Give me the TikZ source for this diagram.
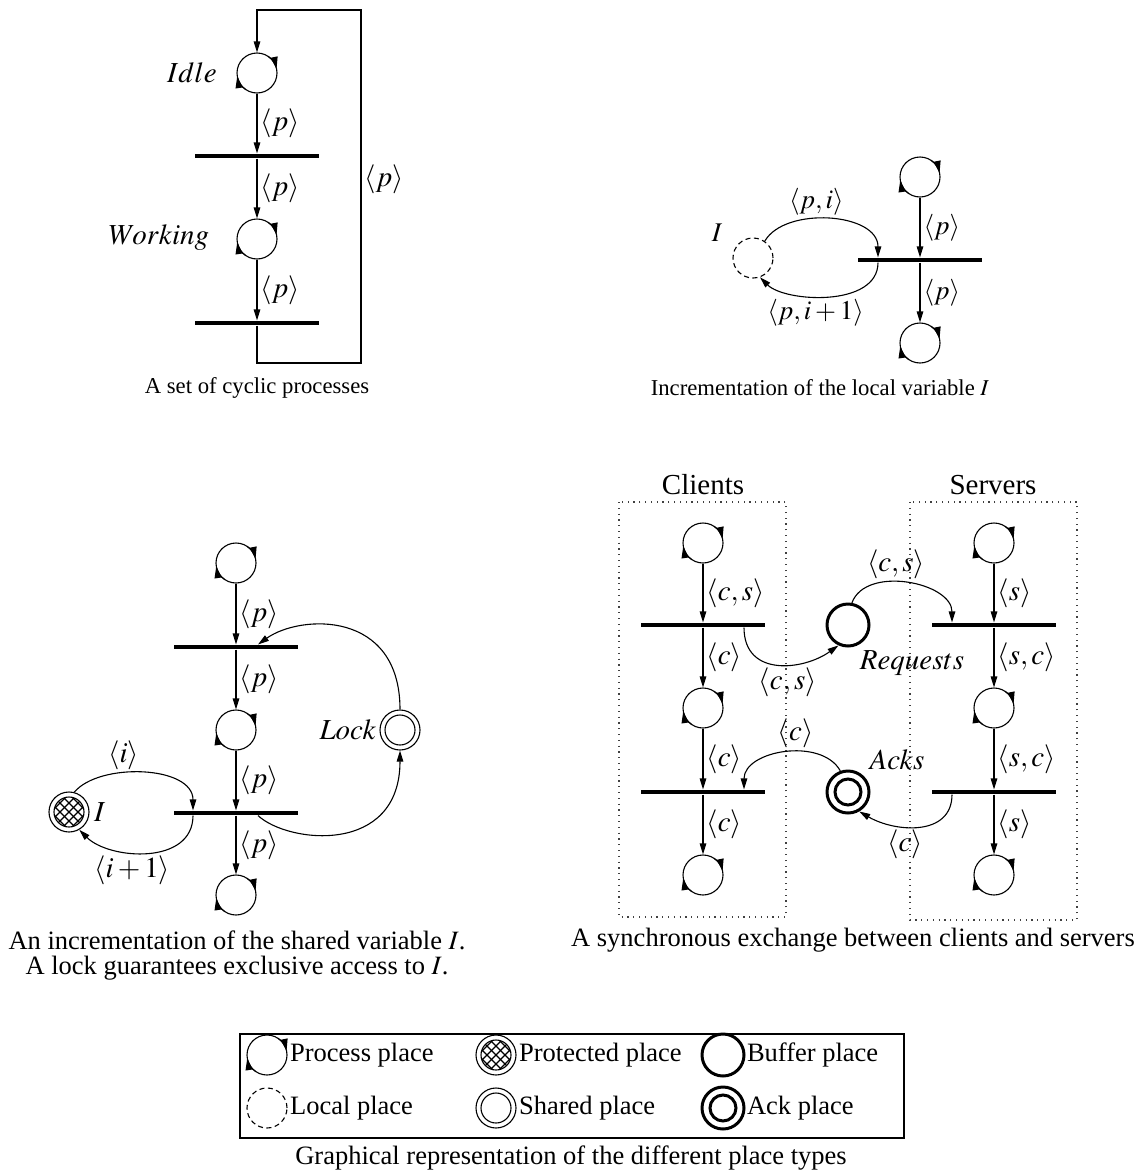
\documentclass[tikz,border=0pt]{standalone}
\usepackage{mathptmx}
\usepackage{fontspec}
\setmainfont{Liberation Serif}
\usetikzlibrary{arrows.meta}
\newcommand\procmarks[1]{%
  \draw[parr] ([shift={(56:20)}]#1.center) arc[start angle=56,end angle=12,radius=20];
  \draw[parr] ([shift={(234:20)}]#1.center) arc[start angle=234,end angle=189,radius=20];}
\begin{document}
\begin{tikzpicture}[x=1pt,y=1pt,line width=1.1pt,
  lbl/.style={font=\fontsize{29}{33}\selectfont, inner sep=3pt},
  lbls/.style={font=\fontsize{27}{31}\selectfont, inner sep=3pt},
  captxt/.style={font=\fontsize{26.5}{30}\selectfont, inner sep=0pt},
  captop/.style={font=\fontsize{22.7}{27}\selectfont, inner sep=0pt},
  arr/.style={-{Triangle[length=11pt,width=6.5pt]}},
  parr/.style={-{Triangle[length=12pt,width=7pt]}},
  place/.style={circle, draw, minimum size=40pt, inner sep=0pt, line width=1.1pt},
  localpl/.style={place, dashed, dash pattern=on 5pt off 3.5pt},
  shared/.style={place, path picture={\draw[line width=1.1pt] (path picture bounding box.center) circle (15);}},
  protected/.style={place, path picture={
     \begin{scope}[shift={(path picture bounding box.center)}]
     \clip (0,0) circle (15);
     \foreach \k in {-36,-27,...,36} {\draw[line width=1.1pt] (\k-20,-20) -- (\k+20,20); \draw[line width=1.1pt] (\k-20,20) -- (\k+20,-20);}
     \end{scope}
     \draw[line width=1.1pt] (path picture bounding box.center) circle (15);}},
  buffer/.style={place, minimum size=42pt, line width=3pt},
  ackpl/.style={place, minimum size=42pt, line width=3pt, path picture={\draw[line width=3pt] (path picture bounding box.center) circle (13);}},
  trans/.style={rectangle, fill=black, minimum width=124pt, minimum height=4pt, inner sep=0pt},
  grp/.style={draw, line width=1.2pt, dash pattern=on 1.2pt off 4.6pt, draw=black!75}]
\path[use as bounding box] (0,0) rectangle (1135,-1170);

% ---------- Panel 1: cyclic processes
\node[place] (idle) at (257,-73) {};
\node[trans] (t11) at (257,-156) {};
\node[place] (work) at (257,-239) {};
\node[trans] (t12) at (257,-323) {};
\procmarks{idle}\procmarks{work}
\node[lbl] (lidle) at (192,-73) {$Idle$};
\node[lbl] (lwork) at (159,-237) {$Working$};
\draw[arr] (idle) -- node[lbl,right]{$\langle p\rangle$} (t11);
\draw[arr] (t11) -- node[lbl,right]{$\langle p\rangle$} (work);
\draw[arr] (work) -- node[lbl,right]{$\langle p\rangle$} (t12);
\coordinate (lbr) at (361,-363);
\coordinate (ltr) at (361,-10);
\coordinate (ltl) at (257,-10);
\draw[arr] (t12.south) |- (lbr) -- node[lbl,pos=0.52,right]{$\langle p\rangle$} (ltr) -- (ltl) -- (idle);
\node[captop] (cap1) at (257,-388) {A set of cyclic processes};

% ---------- Panel 2: local variable
\node[place] (q1) at (920,-177) {};
\node[trans] (t2) at (920,-260) {};
\node[place] (q2) at (920,-343) {};
\procmarks{q1}\procmarks{q2}
\node[localpl] (vi) at (753,-258) {};
\node[lbls] (lvi) at (717,-233) {$I$};
\draw[arr] (q1) -- node[lbls,right]{$\langle p\rangle$} (t2);
\draw[arr] (t2) -- node[lbls,right]{$\langle p\rangle$} (q2);
\draw[arr] (vi.55) .. controls +(20,35) and +(0,45) .. node[lbls,above,pos=0.42]{$\langle p,i\rangle$} ([xshift=-42]t2.north);
\draw[arr] ([xshift=-42]t2.south) .. controls +(0,-45) and +(25,-25) .. node[lbls,below,pos=0.58]{$\langle p,i+1\rangle$} (vi.-70);
\node[captop] (cap2) at (820,-388) {Incrementation of the local variable $I$};

% ---------- Panel 3: shared variable
\node[place] (a1) at (236,-563) {};
\node[trans] (ta1) at (236,-647) {};
\node[place] (a2) at (236,-730) {};
\node[trans] (ta2) at (236,-813) {};
\node[place] (a3) at (236,-895) {};
\procmarks{a1}\procmarks{a2}\procmarks{a3}
\draw[arr] (a1) -- node[lbl,right]{$\langle p\rangle$} (ta1);
\draw[arr] (ta1) -- node[lbl,right]{$\langle p\rangle$} (a2);
\draw[arr] (a2) -- node[lbl,right]{$\langle p\rangle$} (ta2);
\draw[arr] (ta2) -- node[lbl,right]{$\langle p\rangle$} (a3);
\node[shared] (lock) at (400,-730) {};
\node[lbl,anchor=east] (llock) at (lock.west) {$Lock$};
\node[protected] (prot) at (69,-812) {};
\node[lbl,anchor=west] (lprot) at ([xshift=1pt]prot.east) {$I$};
\draw[arr] (lock.north) .. controls +(0,100) and +(42,30) .. ([xshift=22]ta1.north);
\draw[arr] ([xshift=22]ta2.south) .. controls +(30,-28) and +(0,-105) .. (lock.south);
\draw[arr] (prot.75) .. controls +(25,30) and +(0,45) .. node[lbl,above,pos=0.38]{$\langle i\rangle$} ([xshift=-43]ta2.north);
\draw[arr] ([xshift=-43]ta2.south) .. controls +(0,-50) and +(30,-30) .. node[lbl,below,pos=0.6]{$\langle i+1\rangle$} (prot.-60);
\node[captxt] (cap3a) at (237,-940) {An incrementation of the shared variable $I$.};
\node[captxt] (cap3b) at (237,-968) {A lock guarantees exclusive access to $I$.};

% ---------- Panel 4: clients / servers
\draw[grp] (619,-502) rectangle (786,-917);
\draw[grp] (910,-502) rectangle (1077,-920);
\node[lbl] (lcli) at (703,-485) {Clients};
\node[lbl] (lsrv) at (993,-485) {Servers};
\node[place] (c1) at (703,-543) {};
\node[trans] (ct1) at (703,-625) {};
\node[place] (c2) at (703,-708) {};
\node[trans] (ct2) at (703,-792) {};
\node[place] (c3) at (703,-875) {};
\node[place] (s1) at (994,-543) {};
\node[trans] (st1) at (994,-625) {};
\node[place] (s2) at (994,-708) {};
\node[trans] (st2) at (994,-792) {};
\node[place] (s3) at (994,-875) {};
\procmarks{c1}\procmarks{c2}\procmarks{c3}\procmarks{s1}\procmarks{s2}\procmarks{s3}
\draw[arr] (c1) -- node[lbl,right]{$\langle c,s\rangle$} (ct1);
\draw[arr] (ct1) -- node[lbl,right]{$\langle c\rangle$} (c2);
\draw[arr] (c2) -- node[lbl,right]{$\langle c\rangle$} (ct2);
\draw[arr] (ct2) -- node[lbl,right]{$\langle c\rangle$} (c3);
\draw[arr] (s1) -- node[lbl,right]{$\langle s\rangle$} (st1);
\draw[arr] (st1) -- node[lbl,right]{$\langle s,c\rangle$} (s2);
\draw[arr] (s2) -- node[lbl,right]{$\langle s,c\rangle$} (st2);
\draw[arr] (st2) -- node[lbl,right]{$\langle s\rangle$} (s3);
\node[buffer] (req) at (848,-625) {};
\node[lbl] (lreq) at (912,-663) {$Requests$};
\node[ackpl] (ack) at (848,-792) {};
\node[lbl] (lack) at (897,-760) {$Acks$};
\draw[arr] ([xshift=41]ct1.south) .. controls +(0,-50) and +(-35,-25) .. node[lbl,below,pos=0.58]{$\langle c,s\rangle$} (req.-115);
\draw[arr] (req.80) .. controls +(14,38) and +(0,40) .. node[lbl,above,pos=0.42]{$\langle c,s\rangle$} ([xshift=-42]st1.north);
\draw[arr] ([xshift=-42]st2.south) .. controls +(0,-42) and +(36,-21) .. node[lbl,below,pos=0.62]{$\langle c\rangle$} (ack.-60);
\draw[arr] (ack.110) .. controls +(-19,34) and +(0,39) .. node[lbl,above,pos=0.42]{$\langle c\rangle$} ([xshift=41]ct2.north);
\node[captxt] (cap4) at (853,-940) {A synchronous exchange between clients and servers};

% ---------- Legend
\node[draw, line width=1.1pt, minimum width=664pt, minimum height=104pt, inner sep=0pt] (legend) at (572,-1086) {};
\node[place] (lg1) at (267,-1055) {};
\procmarks{lg1}
\node[captxt, anchor=west] (lgt1) at ([xshift=2pt]lg1.east) {Process place};
\node[protected] (lg2) at (496,-1055) {};
\node[captxt, anchor=west] (lgt2) at ([xshift=2pt]lg2.east) {Protected place};
\node[buffer] (lg3) at (723,-1055) {};
\node[captxt, anchor=west] (lgt3) at ([xshift=1pt]lg3.east) {Buffer place};
\node[localpl] (lg4) at (267,-1108) {};
\node[captxt, anchor=west] (lgt4) at ([xshift=2pt]lg4.east) {Local place};
\node[shared] (lg5) at (496,-1108) {};
\node[captxt, anchor=west] (lgt5) at ([xshift=2pt]lg5.east) {Shared place};
\node[ackpl] (lg6) at (723,-1108) {};
\node[captxt, anchor=west] (lgt6) at ([xshift=1pt]lg6.east) {Ack place};
\node[captxt] (cap5) at (571,-1158) {Graphical representation of the different place types};
\end{tikzpicture}
\end{document}
